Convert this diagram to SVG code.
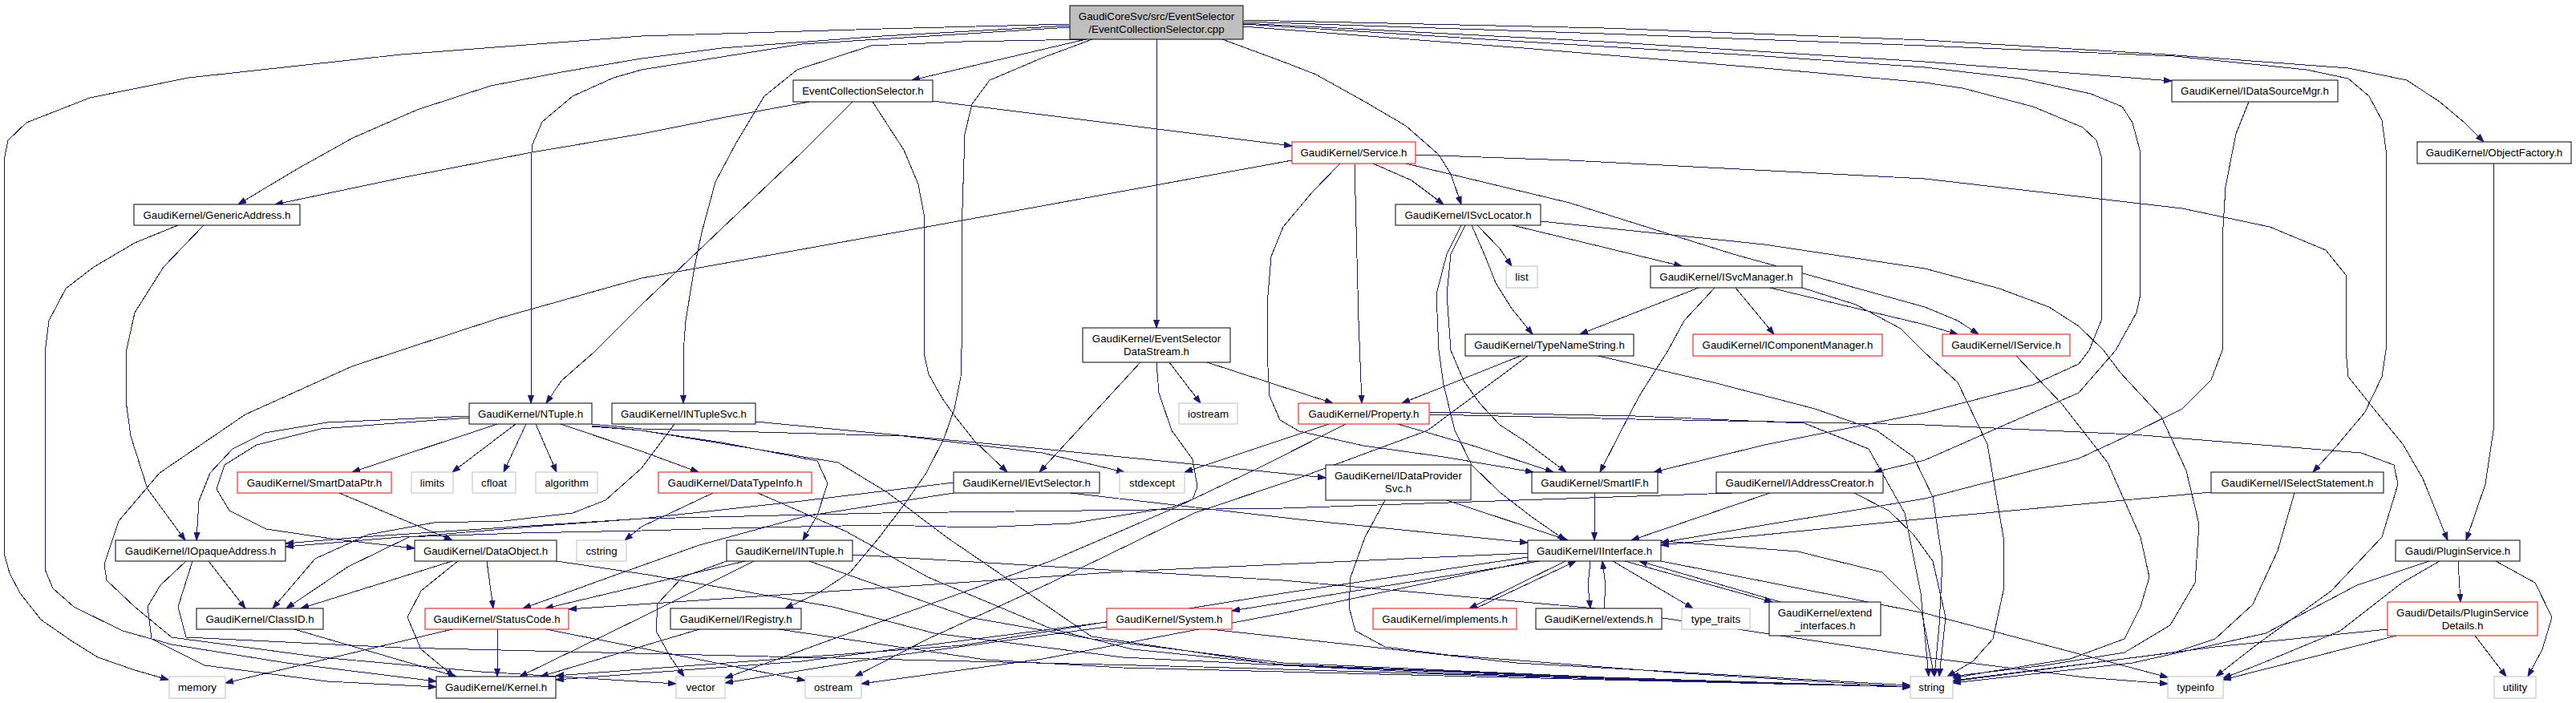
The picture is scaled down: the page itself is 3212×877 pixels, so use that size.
<svg xmlns="http://www.w3.org/2000/svg" width="3212" height="877" viewBox="0 0 3212 877">
<style>
.bg{fill:#ffffff}
rect.n{fill:#ffffff;stroke:#000000;stroke-width:1}
rect.r{fill:#ffffff;stroke:#ff0000;stroke-width:1}
rect.g{fill:#ffffff;stroke:#bfbfbf;stroke-width:1}
rect.m{fill:#bfbfbf;stroke:#000000;stroke-width:1}
text{font-family:"Liberation Sans",Arial,Helvetica,sans-serif;font-size:13.3px;text-anchor:middle;fill:#000000}
path.e{fill:none;stroke:#191970;stroke-width:1;marker-end:url(#ah);stroke-linejoin:round;shape-rendering:crispEdges}
</style>
<defs>
<marker id="ah" markerWidth="10" markerHeight="8" refX="10" refY="4" orient="auto" markerUnits="userSpaceOnUse" viewBox="0 0 10 8">
<path d="M0,0.5 L10,4 L0,7.5 Z" fill="#191970" stroke="#191970" stroke-width="1"/>
</marker>
</defs>
<rect class="bg" x="0" y="0" width="3212" height="877"/>
<g id="edges">
<path class="e" d="M1334,30 L1100,36 L800,45 L500,68 L235,97 L112,122 L33,153 L10,175 L5,200 L5,690 L12,715 L25,740 L51,773 L90,800 L122,820 L168,836 L210,848"/>
<path class="e" d="M1334,32 L1100,45 L900,60 L800,73 L700,90 L612,107 L520,137 L440,172 L372,210 L330,235 L297,255"/>
<path class="e" d="M1334,34 L1000,55 L800,87 L765,97 L714,120 L676,152 L664,180 L662,200 L662,503"/>
<path class="e" d="M1356,49 L1200,52 L1086,57 L994,87 L953,120 L917,180 L892,227 L875,290 L866,333 L855,400 L852,440 L852,503"/>
<path class="e" d="M1362,49 L1300,72 L1234,100 L1212,130 L1203,167 L1200,260 L1199,437 L1198,470 L1190,510 L1177,547 L1155,590 L1127,630 L1095,672 L1060,714 L1020,740 L979,759"/>
<path class="e" d="M1354,49 L1137,100"/>
<path class="e" d="M1442,49 L1442,409"/>
<path class="e" d="M1524,49 L1600,77 L1641,93 L1702,127 L1753,157 L1794,193 L1809,217 L1822,255"/>
<path class="e" d="M1550,33 L1900,60 L2200,85 L2400,103 L2447,110 L2535,133 L2597,159 L2614,175 L2620,195 L2620,400 L2605,437 L2592,454 L2535,480 L2400,515 L2200,555 L2062,589"/>
<path class="e" d="M1550,30 L1900,52 L2200,70 L2400,84 L2520,98 L2607,117 L2646,133 L2659,153 L2668,187 L2669,367 L2664,390 L2638,437 L2592,490 L2500,530 L2400,574 L2337,589"/>
<path class="e" d="M1550,27 L2000,42 L2400,57 L2711,70 L2876,87 L2928,98 L2954,120 L2970,150 L2975,187 L2975,437 L2970,470 L2949,514 L2913,557 L2884,589"/>
<path class="e" d="M1550,29 L2000,52 L2400,77 L2708,101"/>
<path class="e" d="M1550,25 L2000,35 L2400,50 L2700,68 L2928,85 L3001,100 L3042,127 L3073,153 L3097,177"/>
<path class="e" d="M1009,127 L900,147 L800,167 L663,190 L500,222 L343,255"/>
<path class="e" d="M1163,126 L1611,182"/>
<path class="e" d="M1063,127 L1000,190 L900,285 L800,380 L740,440 L700,475 L681,503"/>
<path class="e" d="M1088,127 L1127,187 L1145,230 L1152,267 L1152,440 L1158,467 L1175,497 L1189,517 L1215,550 L1256,589"/>
<path class="e" d="M2804,127 L2788,167 L2775,233 L2771,300 L2771,437 L2757,474 L2721,510 L2650,545 L2592,572 L2400,622 L2200,655 L2071,677"/>
<path class="e" d="M3109,204 L3109,537 L3099,604 L3075,674"/>
<path class="e" d="M1712,204 L1760,225 L1800,255"/>
<path class="e" d="M1689,204 L1694,400 L1698,503"/>
<path class="e" d="M1753,204 L1957,253 L2161,317 L2400,383 L2441,400 L2467,417"/>
<path class="e" d="M1765,193 L1957,200 L2400,223 L2721,260 L2830,283 L2900,312 L2925,343 L2925,437 L2928,470 L2960,510 L2996,554 L3021,597 L3052,674"/>
<path class="e" d="M1671,204 L1636,240 L1600,283 L1585,320 L1580,380 L1580,440 L1583,494 L1596,524 L1620,538 L1700,556 L1800,570 L1912,589"/>
<path class="e" d="M1611,200 L1200,275 L800,347 L622,397 L500,437 L439,457 L306,517 L199,590 L148,650 L130,704 L133,724 L168,757 L214,795 L400,820 L600,838 L843,853"/>
<path class="e" d="M1822,281 L1804,317 L1791,367 L1794,437 L1800,480 L1814,537 L1835,580 L1870,614 L1910,645 L1952,674"/>
<path class="e" d="M1827,281 L1809,317 L1804,367 L1809,437 L1825,475 L1845,503 L1870,530 L1901,550 L1953,589"/>
<path class="e" d="M1835,281 L1852,320 L1865,353 L1885,385 L1911,417"/>
<path class="e" d="M1842,281 L1870,310 L1885,332"/>
<path class="e" d="M1886,281 L2097,332"/>
<path class="e" d="M1921,276 L2200,305 L2400,335 L2493,360 L2555,383 L2592,407 L2623,437 L2643,464 L2695,520 L2726,587 L2742,654 L2737,727 L2706,780 L2649,814 L2550,830 L2432,844"/>
<path class="e" d="M2118,359 L1970,417"/>
<path class="e" d="M2138,359 L2100,400 L2080,437 L2044,494 L2020,540 L1995,589"/>
<path class="e" d="M2164,359 L2212,417"/>
<path class="e" d="M2207,359 L2400,405 L2441,417"/>
<path class="e" d="M2247,359 L2314,380 L2370,410 L2400,440 L2441,477 L2478,554 L2498,670 L2498,737 L2485,797 L2460,825 L2428,844"/>
<path class="e" d="M2514,444 L2571,504 L2628,577 L2669,670 L2680,720 L2669,757 L2649,797 L2581,822 L2480,838 L2435,846"/>
<path class="e" d="M1896,444 L1748,503"/>
<path class="e" d="M1905,444 L1780,537 L1623,595 L1489,640 L1310,727 L1157,797 L1066,844"/>
<path class="e" d="M1993,444 L2136,477 L2263,510 L2340,537 L2386,570 L2410,620 L2422,700 L2418,780 L2412,844"/>
<path class="e" d="M1657,529 L1477,589"/>
<path class="e" d="M1678,529 L1571,583 L1466,633 L1310,700 L1086,780 L904,846"/>
<path class="e" d="M1743,529 L1840,557 L1937,589"/>
<path class="e" d="M1782,517 L2039,523 L2212,526 L2400,530 L2659,542 L2944,565 L2985,580 L2990,604 L2970,670 L2907,737 L2814,804 L2763,844"/>
<path class="e" d="M1782,514 L2039,519 L2250,528 L2330,560 L2375,640 L2395,740 L2405,844"/>
<path class="e" d="M1422,452 L1296,589"/>
<path class="e" d="M1458,452 L1497,503"/>
<path class="e" d="M1505,452 L1662,503"/>
<path class="e" d="M1442,452 L1445,490 L1461,537 L1487,573 L1493,607 L1487,623 L1461,633 L1335,653 L1220,658 L1100,655 L950,658 L800,662 L650,665 L500,670 L356,682"/>
<path class="e" d="M620,529 L439,589"/>
<path class="e" d="M643,529 L564,589"/>
<path class="e" d="M656,529 L628,589"/>
<path class="e" d="M668,529 L694,589"/>
<path class="e" d="M585,519 L408,527 L330,540 L290,560 L262,590 L248,625 L245,674"/>
<path class="e" d="M585,521 L400,535 L320,555 L280,580 L270,610 L286,637 L332,660 L420,673 L517,684"/>
<path class="e" d="M699,529 L800,563 L871,589"/>
<path class="e" d="M738,532 L800,537 L900,552 L1019,575 L1032,603 L1019,643 L1001,674"/>
<path class="e" d="M738,529 L800,535 L1127,544 L1300,565 L1402,589"/>
<path class="e" d="M738,531 L800,537 L1045,577 L1106,614 L1180,670 L1259,724 L1361,794 L1600,830 L2000,846 L2382,857"/>
<path class="e" d="M942,526 L1300,560 L1653,596"/>
<path class="e" d="M841,529 L800,584 L755,624 L714,640 L628,650 L541,652 L459,667 L393,697 L340,759"/>
<path class="e" d="M1189,602 L1000,625 L800,647 L600,660 L450,670 L356,678"/>
<path class="e" d="M1189,615 L1004,644 L872,680 L760,720 L652,759"/>
<path class="e" d="M1335,615 L1620,648 L1905,677"/>
<path class="e" d="M564,700 L375,759"/>
<path class="e" d="M607,700 L615,759"/>
<path class="e" d="M571,700 L525,737 L508,770 L525,810 L566,844"/>
<path class="e" d="M694,700 L808,717 L1038,757 L1165,790 L1400,820 L1800,840 L2382,857"/>
<path class="e" d="M423,615 L564,674"/>
<path class="e" d="M889,615 L800,657 L779,674"/>
<path class="e" d="M945,615 L1055,663 L1157,720 L1310,784 L1412,810 L1600,829 L2000,845 L2382,857"/>
<path class="e" d="M260,700 L306,759"/>
<path class="e" d="M232,700 L200,730 L184,757 L189,797 L255,830 L408,850 L544,857"/>
<path class="e" d="M240,700 L222,757 L232,795 L500,808 L1000,820 L1500,832 L2000,847 L2382,857"/>
<path class="e" d="M367,785 L569,844"/>
<path class="e" d="M620,785 L620,844"/>
<path class="e" d="M564,785 L281,852"/>
<path class="e" d="M681,785 L1004,849"/>
<path class="e" d="M929,700 L680,759"/>
<path class="e" d="M940,700 L800,770 L648,844"/>
<path class="e" d="M906,700 L851,720 L820,753 L818,787 L836,820 L853,844"/>
<path class="e" d="M1063,692 L1600,724 L2000,760 L2400,820 L2600,845 L2703,853"/>
<path class="e" d="M1009,700 L1208,770 L1361,797 L1600,827 L2000,845 L2382,857"/>
<path class="e" d="M872,785 L674,844"/>
<path class="e" d="M971,785 L1229,823 L1400,833 L2000,848 L2382,857"/>
<path class="e" d="M1380,782 L1100,820 L904,852"/>
<path class="e" d="M1380,776 L1000,825 L693,848"/>
<path class="e" d="M1509,785 L1891,827 L2382,855"/>
<path class="e" d="M1905,690 L1400,713 L709,760"/>
<path class="e" d="M1905,695 L1600,740 L1200,805 L693,843"/>
<path class="e" d="M1908,700 L1600,765 L1300,822 L1074,853"/>
<path class="e" d="M1919,700 L1536,762"/>
<path class="e" d="M1952,700 L1832,759"/>
<path class="e" d="M1840,759 L1965,700"/>
<path class="e" d="M1983,700 L1980,730 L1983,759"/>
<path class="e" d="M2000,759 L2002,730 L1998,700"/>
<path class="e" d="M2011,700 L2111,759"/>
<path class="e" d="M2026,700 L2210,751"/>
<path class="e" d="M2220,751 L2044,700"/>
<path class="e" d="M2071,700 L2400,765 L2703,845"/>
<path class="e" d="M2060,674 L2242,688 L2347,714 L2396,763 L2412,844"/>
<path class="e" d="M3065,700 L3068,751"/>
<path class="e" d="M3112,700 L3161,727 L3182,770 L3170,810 L3152,844"/>
<path class="e" d="M3029,700 L2939,730 L2825,790 L2659,827 L2435,852"/>
<path class="e" d="M3042,700 L2995,727 L2918,787 L2814,830 L2772,846"/>
<path class="e" d="M2977,785 L2762,807 L2435,850"/>
<path class="e" d="M2988,793 L2772,848"/>
<path class="e" d="M3086,793 L3125,844"/>
<path class="e" d="M2757,614 L2400,647 L2071,680"/>
<path class="e" d="M2861,615 L2840,687 L2809,754 L2762,797 L2711,814 L2435,849"/>
<path class="e" d="M2207,615 L2034,674"/>
<path class="e" d="M2159,615 L1600,634 L1100,640 L800,647 L663,657 L510,670 L434,707 L357,759"/>
<path class="e" d="M2312,615 L2355,637 L2386,667 L2410,700 L2426,770 L2418,844"/>
<path class="e" d="M1804,624 L1955,674"/>
<path class="e" d="M1727,624 L1702,670 L1684,720 L1682,757 L1690,787 L1727,807 L1805,817 L2100,840 L2382,857"/>
<path class="e" d="M1988,615 L1988,674"/>
<path class="e" d="M222,281 L168,303 L117,333 L82,360 L61,400 L56,440 L56,710 L66,734 L92,757 L153,787 L214,804 L357,827 L544,850"/>
<path class="e" d="M254,281 L204,333 L168,390 L157,440 L157,500 L163,544 L184,610 L231,674"/>
</g>
<g id="n_main"><rect class="m" x="1334" y="7" width="216" height="42"/><text x="1442" y="24.5">GaudiCoreSvc/src/EventSelector</text><text x="1442" y="40.5">/EventCollectionSelector.cpp</text></g>
<g id="n_ecs"><rect class="n" x="989" y="100" width="174" height="27"/><text x="1076" y="118">EventCollectionSelector.h</text></g>
<g id="n_dsm"><rect class="n" x="2708" y="100" width="207" height="27"/><text x="2811.5" y="118">GaudiKernel/IDataSourceMgr.h</text></g>
<g id="n_svc"><rect class="r" x="1611" y="177" width="154" height="27"/><text x="1688" y="195">GaudiKernel/Service.h</text></g>
<g id="n_objf"><rect class="n" x="3014" y="177" width="192" height="27"/><text x="3110" y="195">GaudiKernel/ObjectFactory.h</text></g>
<g id="n_ga"><rect class="n" x="167" y="255" width="207" height="26"/><text x="270.5" y="272.5">GaudiKernel/GenericAddress.h</text></g>
<g id="n_svcloc"><rect class="n" x="1740" y="255" width="181" height="26"/><text x="1830.5" y="272.5">GaudiKernel/ISvcLocator.h</text></g>
<g id="n_list"><rect class="g" x="1878" y="332" width="39" height="27"/><text x="1897.5" y="350">list</text></g>
<g id="n_svcmgr"><rect class="n" x="2058" y="332" width="189" height="27"/><text x="2152.5" y="350">GaudiKernel/ISvcManager.h</text></g>
<g id="n_ds"><rect class="n" x="1350" y="409" width="184" height="43"/><text x="1442" y="427">GaudiKernel/EventSelector</text><text x="1442" y="443">DataStream.h</text></g>
<g id="n_tns"><rect class="n" x="1827" y="417" width="210" height="27"/><text x="1932" y="435">GaudiKernel/TypeNameString.h</text></g>
<g id="n_icm"><rect class="r" x="2111" y="417" width="236" height="27"/><text x="2229" y="435">GaudiKernel/IComponentManager.h</text></g>
<g id="n_isvc"><rect class="r" x="2422" y="417" width="159" height="27"/><text x="2501.5" y="435">GaudiKernel/IService.h</text></g>
<g id="n_ntuple"><rect class="n" x="585" y="503" width="153" height="26"/><text x="661.5" y="520.5">GaudiKernel/NTuple.h</text></g>
<g id="n_ntsvc"><rect class="n" x="763" y="503" width="179" height="26"/><text x="852.5" y="520.5">GaudiKernel/INTupleSvc.h</text></g>
<g id="n_iostream"><rect class="g" x="1470" y="503" width="73" height="26"/><text x="1506.5" y="520.5">iostream</text></g>
<g id="n_prop"><rect class="r" x="1619" y="503" width="163" height="26"/><text x="1700.5" y="520.5">GaudiKernel/Property.h</text></g>
<g id="n_sdp"><rect class="r" x="296" y="589" width="192" height="26"/><text x="392" y="606.5">GaudiKernel/SmartDataPtr.h</text></g>
<g id="n_limits"><rect class="g" x="513" y="589" width="52" height="26"/><text x="539" y="606.5">limits</text></g>
<g id="n_cfloat"><rect class="g" x="589" y="589" width="54" height="26"/><text x="616" y="606.5">cfloat</text></g>
<g id="n_algorithm"><rect class="g" x="668" y="589" width="77" height="26"/><text x="706.5" y="606.5">algorithm</text></g>
<g id="n_dti"><rect class="r" x="821" y="589" width="191" height="26"/><text x="916.5" y="606.5">GaudiKernel/DataTypeInfo.h</text></g>
<g id="n_evtsel"><rect class="n" x="1189" y="589" width="182" height="26"/><text x="1280" y="606.5">GaudiKernel/IEvtSelector.h</text></g>
<g id="n_stdexcept"><rect class="g" x="1396" y="589" width="81" height="26"/><text x="1436.5" y="606.5">stdexcept</text></g>
<g id="n_dps"><rect class="n" x="1653" y="580" width="181" height="44"/><text x="1743.5" y="598">GaudiKernel/IDataProvider</text><text x="1743.5" y="614">Svc.h</text></g>
<g id="n_smartif"><rect class="n" x="1910" y="589" width="157" height="26"/><text x="1988.5" y="606.5">GaudiKernel/SmartIF.h</text></g>
<g id="n_iac"><rect class="n" x="2140" y="589" width="208" height="26"/><text x="2244" y="606.5">GaudiKernel/IAddressCreator.h</text></g>
<g id="n_iss"><rect class="n" x="2757" y="589" width="215" height="26"/><text x="2864.5" y="606.5">GaudiKernel/ISelectStatement.h</text></g>
<g id="n_ioa"><rect class="n" x="144" y="674" width="212" height="26"/><text x="250" y="691.5">GaudiKernel/IOpaqueAddress.h</text></g>
<g id="n_dobj"><rect class="n" x="517" y="674" width="177" height="26"/><text x="605.5" y="691.5">GaudiKernel/DataObject.h</text></g>
<g id="n_cstring"><rect class="g" x="719" y="674" width="62" height="26"/><text x="750" y="691.5">cstring</text></g>
<g id="n_intuple"><rect class="n" x="906" y="674" width="157" height="26"/><text x="984.5" y="691.5">GaudiKernel/INTuple.h</text></g>
<g id="n_iif"><rect class="n" x="1905" y="674" width="166" height="26"/><text x="1988" y="691.5">GaudiKernel/IInterface.h</text></g>
<g id="n_ps"><rect class="n" x="2987" y="674" width="155" height="26"/><text x="3064.5" y="691.5">Gaudi/PluginService.h</text></g>
<g id="n_clid"><rect class="n" x="245" y="759" width="158" height="26"/><text x="324" y="776.5">GaudiKernel/ClassID.h</text></g>
<g id="n_sc"><rect class="r" x="530" y="759" width="179" height="26"/><text x="619.5" y="776.5">GaudiKernel/StatusCode.h</text></g>
<g id="n_ireg"><rect class="n" x="836" y="759" width="163" height="26"/><text x="917.5" y="776.5">GaudiKernel/IRegistry.h</text></g>
<g id="n_sys"><rect class="r" x="1380" y="759" width="156" height="26"/><text x="1458" y="776.5">GaudiKernel/System.h</text></g>
<g id="n_impl"><rect class="r" x="1712" y="759" width="179" height="26"/><text x="1801.5" y="776.5">GaudiKernel/implements.h</text></g>
<g id="n_ext"><rect class="n" x="1915" y="759" width="157" height="26"/><text x="1993.5" y="776.5">GaudiKernel/extends.h</text></g>
<g id="n_tt"><rect class="g" x="2097" y="759" width="85" height="26"/><text x="2139.5" y="776.5">type_traits</text></g>
<g id="n_exti"><rect class="n" x="2206" y="751" width="139" height="42"/><text x="2275.5" y="768.5">GaudiKernel/extend</text><text x="2275.5" y="784.5">_interfaces.h</text></g>
<g id="n_psd"><rect class="r" x="2977" y="751" width="187" height="42"/><text x="3070.5" y="768.5">Gaudi/Details/PluginService</text><text x="3070.5" y="784.5">Details.h</text></g>
<g id="n_memory"><rect class="g" x="211" y="844" width="70" height="27"/><text x="246" y="862">memory</text></g>
<g id="n_kernel"><rect class="n" x="544" y="844" width="149" height="27"/><text x="618.5" y="862">GaudiKernel/Kernel.h</text></g>
<g id="n_vector"><rect class="g" x="843" y="844" width="61" height="27"/><text x="873.5" y="862">vector</text></g>
<g id="n_ostream"><rect class="g" x="1004" y="844" width="70" height="27"/><text x="1039" y="862">ostream</text></g>
<g id="n_string"><rect class="g" x="2382" y="844" width="53" height="27"/><text x="2408.5" y="862">string</text></g>
<g id="n_typeinfo"><rect class="g" x="2703" y="844" width="69" height="27"/><text x="2737.5" y="862">typeinfo</text></g>
<g id="n_utility"><rect class="g" x="3110" y="844" width="52" height="27"/><text x="3136" y="862">utility</text></g>
</svg>
